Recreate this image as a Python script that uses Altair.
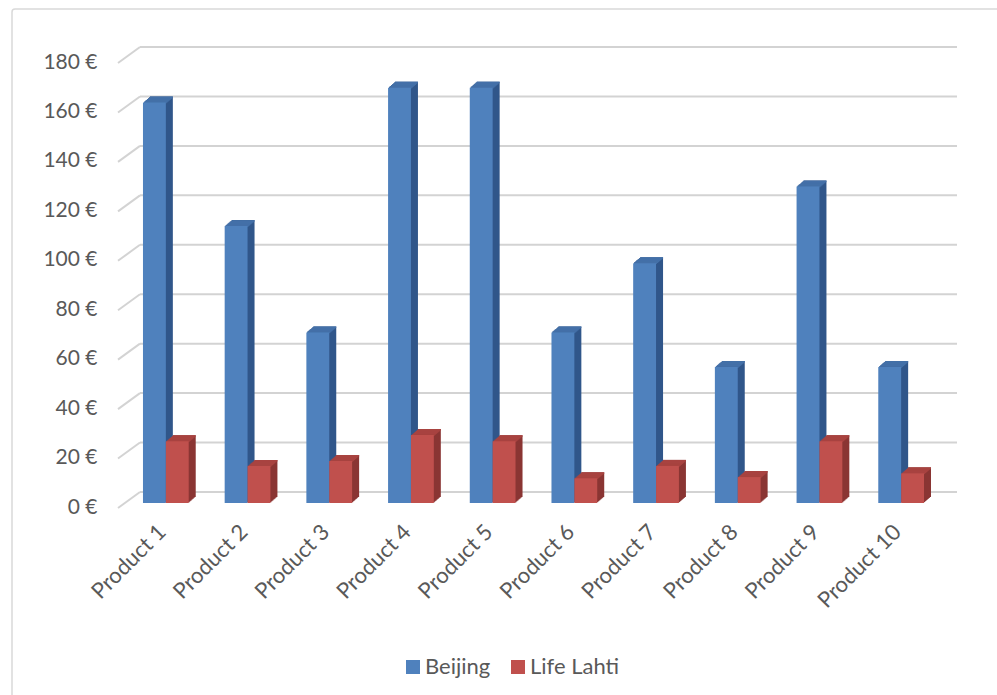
import altair as alt
import pandas as pd

products = ["Product 1", "Product 2", "Product 3", "Product 4", "Product 5",
            "Product 6", "Product 7", "Product 8", "Product 9", "Product 10"]
beijing = [162, 112, 69, 168, 168, 69, 97, 55, 128, 55]
lahti = [25, 15, 17, 27.5, 25, 10, 15, 10.5, 25, 12]
series = ["Beijing", "Life Lahti"]
grid_values = [0, 20, 40, 60, 80, 100, 120, 140, 160, 180]

front_colors = ["#4f81bd", "#c0504d"]
side_colors = ["#30568a", "#8a3533"]
top_colors = ["#4470a8", "#a84340"]

rows = []
for i, (p, b, l) in enumerate(zip(products, beijing, lahti)):
    rows.append({"product": p, "idx": i, "series": "Beijing", "s": 0, "value": b})
    rows.append({"product": p, "idx": i, "series": "Life Lahti", "s": 1, "value": l})
df = pd.DataFrame(rows)
grid = pd.DataFrame({"v": grid_values})

W, H = 817, 445
TOP = 58
FONT = "Lato"
TXT = "#595959"
BAR = 0.28      # bar width in band-step units
OUTER = 0.22    # gap before the pair, in band-step units

xscale = alt.Scale(domain=[0, len(products)], nice=False, zero=False, padding=0)
yscale = alt.Scale(domain=[0, 180], nice=False, padding=0)

prod_list = "[" + ",".join("'" + p + "'" for p in products) + "]"
X_AXIS = alt.Axis(title=None, values=[i + 0.5 for i in range(len(products))],
                  labelExpr=prod_list + "[floor(datum.value)]",
                  labelAngle=-45, labelAlign="right", labelBaseline="middle",
                  labelOverlap=False, labelBound=False, labelFlush=False,
                  domain=False, ticks=False, grid=False, labelPadding=25, labelOffset=-4,
                  labelFont=FONT, labelFontSize=22, labelColor=TXT)
Y_AXIS = alt.Axis(title=None, values=grid_values, labelExpr="datum.value + ' €'",
                  labelOverlap=False, labelFlush=False,
                  domain=False, ticks=False, grid=False, labelPadding=28, labelOffset=4,
                  labelFont=FONT, labelFontSize=21, labelColor=TXT)


def base(data=df):
    return alt.Chart(data).transform_calculate(
        xs=f"datum.idx + {OUTER} + datum.s * {BAR}",
        xe=f"datum.idx + {OUTER} + (datum.s + 1) * {BAR}",
    )


def xy(extra=None):
    enc = dict(
        x=alt.X("xs:Q", scale=xscale, axis=X_AXIS),
        x2=alt.X2("xe:Q"),
        y=alt.Y("value:Q", scale=yscale, axis=Y_AXIS),
        y2=alt.datum(0),
    )
    if extra:
        enc.update(extra)
    return enc


def cond(colors):
    return alt.condition("datum.series == 'Beijing'", alt.value(colors[0]), alt.value(colors[1]))


layers = []

# back wall gridlines
back = alt.Chart(grid).mark_rule(color="#d3d3d3", strokeWidth=2, yOffset=-11).encode(
    y=alt.Y("v:Q", scale=yscale, axis=Y_AXIS), x=alt.value(15), x2=alt.value(832)
)
diag = alt.Chart(grid).mark_rule(color="#d3d3d3", strokeWidth=2, yOffset=5, y2Offset=-11).encode(
    y=alt.Y("v:Q", scale=yscale, axis=Y_AXIS), y2=alt.Y2("v:Q"), x=alt.value(-7), x2=alt.value(15)
)
layers += [back, diag]

D = 7
for k in range(1, D + 1):
    dx = k
    dy = k * 6.0 / D
    side = base().mark_bar(xOffset=dx, x2Offset=dx, yOffset=-dy, y2Offset=-dy).encode(
        **xy({"color": cond(side_colors)})
    )
    layers.append(side)
for k in range(1, D + 1):
    dx = k
    dy = k * 6.0 / D
    top = base().mark_bar(xOffset=dx, x2Offset=dx, yOffset=-dy, y2Offset=-dy + 1.6).encode(
        **xy({"y2": alt.Y2("value:Q"), "color": cond(top_colors)})
    )
    layers.append(top)

front = base().mark_bar().encode(
    **xy({"color": alt.Color("series:N", scale=alt.Scale(domain=series, range=front_colors),
                             legend=alt.Legend(title=None, orient="none", legendX=277,
                                               legendY=597 - (TOP - 59),
                                               direction="horizontal", symbolType="square",
                                               symbolSize=196, symbolStrokeWidth=0, labelFont=FONT,
                                               labelFontSize=22, labelColor=TXT, columnPadding=16,
                                               labelOffset=1))})
)
layers.append(front)

# border
border = alt.Chart(pd.DataFrame({"a": [0]})).mark_rect(
    fill="white", fillOpacity=0, stroke="#d9d9d9", strokeWidth=1.5, cornerRadius=3
).encode(x=alt.value(12 - 125), y=alt.value(9 - TOP), x2=alt.value(1010), y2=alt.value(700))
layers.append(border)

chart = alt.layer(*layers).properties(
    width=W, height=H,
    autosize=alt.AutoSizeParams(type="none"),
    padding={"left": 125, "top": TOP, "right": 55, "bottom": 695 - TOP - H},
    background="white",
).configure_view(strokeWidth=0)

chart.save("out.html", embed_options={"renderer": "svg", "actions": False})
